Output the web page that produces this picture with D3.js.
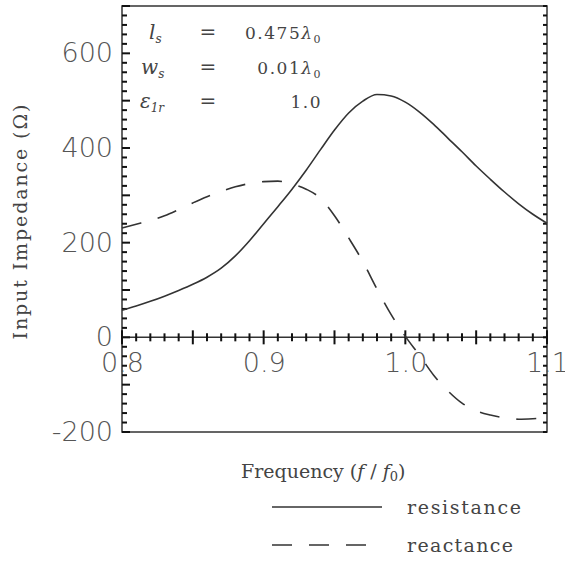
<!DOCTYPE html>
<html>
<head>
<meta charset="utf-8">
<script src="https://cdn.jsdelivr.net/npm/d3@7"></script>
<style>
  body { margin: 0; background: #fff; }
  .lbl text { font-family: "DejaVu Sans", sans-serif; font-weight: 200; font-size: 27px; fill: #555; }
  .serif { font-family: "DejaVu Serif", serif; fill: #444; }
</style>
</head>
<body>
<div id="chart"></div>
<script>
var freq = [0.80, 0.81, 0.82, 0.83, 0.84, 0.85, 0.86, 0.87, 0.88, 0.89, 0.90,
            0.91, 0.92, 0.93, 0.94, 0.95, 0.96, 0.97, 0.98, 0.99, 1.00,
            1.01, 1.02, 1.03, 1.04, 1.05, 1.06, 1.07, 1.08, 1.09, 1.10];
var resistance = [57, 66, 76, 87, 99, 112, 127, 146, 172, 204, 240,
                  276, 313, 353, 396, 438, 474, 499, 513, 510, 497,
                  476, 450, 421, 392, 362, 334, 307, 282, 260, 241];
var reactance = [231, 239, 247, 257, 270, 284, 297, 308, 318, 325, 329,
                 330, 324, 313, 294, 257, 210, 160, 102, 48, 2,
                 -38, -80, -113, -139, -155, -164, -170, -173, -172, -170];
var xLabels = [0.8, 0.9, 1.0, 1.1];
var yLabels = [-200, 0, 200, 400, 600];
var yTicks = d3.range(-200, 701, 20);
var xTicks = d3.range(0, 31).map(i => 0.8 + i * 0.01);
var params = [["l", "s", "0.475", true], ["w", "s", "0.01", true], ["ε", "1r", "1.0", false]];

var W = 565, H = 561;
var plotLeft = 122, plotRight = 547, plotTop = 6, plotBottom = 432;

var svg = d3.select("#chart").append("svg")
  .attr("width", W).attr("height", H);

var x = d3.scaleLinear().domain([0.8, 1.1]).range([plotLeft, plotRight]);
var y = d3.scaleLinear().domain([-200, 700]).range([plotBottom, plotTop]);

// frame
svg.append("rect")
  .attr("x", plotLeft).attr("y", plotTop)
  .attr("width", plotRight - plotLeft).attr("height", plotBottom - plotTop)
  .attr("fill", "none").attr("stroke", "#333").attr("stroke-width", 1.5);

// x axis along zero
svg.append("line")
  .attr("x1", plotLeft).attr("x2", plotRight)
  .attr("y1", y(0)).attr("y2", y(0))
  .attr("stroke", "#333").attr("stroke-width", 1.5);

// ticks: inward on left and right, crossing the zero line
var major = d => Math.abs(d % 100) < 1e-6;
var ticks = svg.append("g").attr("stroke", "#111").attr("stroke-width", 2);
yTicks.forEach(function(d) {
  ticks.append("line")
    .attr("x1", plotLeft).attr("x2", plotLeft + (major(d) ? 8 : 5))
    .attr("y1", y(d)).attr("y2", y(d));
  ticks.append("line")
    .attr("x1", plotRight).attr("x2", plotRight - 4)
    .attr("y1", y(d)).attr("y2", y(d));
});
xTicks.forEach(function(d, i) {
  var h = i % 5 == 0 ? 7 : 4;
  ticks.append("line")
    .attr("x1", x(d)).attr("x2", x(d))
    .attr("y1", y(0) - h).attr("y2", y(0) + h);
});

// y labels
svg.append("g")
  .attr("class", "lbl")
  .attr("transform", "translate(" + plotLeft + ",0)")
  .call(d3.axisLeft(y).tickValues(yLabels).tickSize(0).tickPadding(9).tickFormat(d => String(d)))
  .call(g => g.select(".domain").remove());

// x labels
svg.append("g")
  .attr("class", "lbl")
  .attr("transform", "translate(0," + y(0) + ")")
  .call(d3.axisBottom(x).tickValues(xLabels).tickSize(0).tickPadding(16).tickFormat(d3.format(".1f")))
  .call(g => g.select(".domain").remove());

// curves
var line = function(vals) {
  return d3.line()
    .x((d, i) => x(freq[i]))
    .y(d => y(d))
    .curve(d3.curveMonotoneX)(vals);
};
svg.append("path")
  .attr("d", line(resistance))
  .attr("fill", "none").attr("stroke", "#333").attr("stroke-width", 1.6);
svg.append("path")
  .attr("d", line(reactance))
  .attr("fill", "none").attr("stroke", "#333").attr("stroke-width", 1.6)
  .attr("stroke-dasharray", "20,17");

// parameter box
var rows = [39, 74, 108];
params.forEach(function(p, i) {
  var t = svg.append("text").attr("class", "serif")
    .attr("x", i == 1 ? 141 : (i == 2 ? 140 : 149)).attr("y", rows[i])
    .style("font-size", "20px").style("font-style", "italic");
  t.append("tspan").text(p[0]);
  t.append("tspan").attr("dy", 4).style("font-size", "12px").text(p[1]);

  svg.append("text").attr("class", "serif")
    .attr("x", 208).attr("y", rows[i])
    .attr("text-anchor", "middle")
    .style("font-size", "20px")
    .text("=");

  var v = svg.append("text").attr("class", "serif")
    .attr("x", 322).attr("y", rows[i])
    .attr("text-anchor", "end")
    .style("font-size", "17px").style("letter-spacing", "1.5px");
  v.append("tspan").text(p[2]);
  if (p[3]) {
    v.append("tspan").style("font-style", "italic").text("λ");
    v.append("tspan").attr("dy", 4).style("font-size", "11px").text("0");
  }
});

// axis titles
svg.append("text").attr("class", "serif")
  .attr("transform", "translate(27,222) rotate(-90)")
  .attr("text-anchor", "middle")
  .attr("textLength", 235).attr("lengthAdjust", "spacing")
  .style("font-size", "19px")
  .text("Input Impedance (Ω)");

var ft = svg.append("text").attr("class", "serif")
  .attr("x", 241).attr("y", 478)
  .style("font-size", "19px");
ft.append("tspan").text("Frequency (");
ft.append("tspan").style("font-style", "italic").text("f");
ft.append("tspan").text(" / ");
ft.append("tspan").style("font-style", "italic").text("f");
ft.append("tspan").attr("dy", 3).style("font-size", "13px").text("0");
ft.append("tspan").attr("dy", -3).text(")");

// legend
var legend = [["resistance", null, 507], ["reactance", "20,17", 545]];
legend.forEach(function(d) {
  svg.append("line")
    .attr("x1", 272).attr("x2", 382)
    .attr("y1", d[2]).attr("y2", d[2])
    .attr("stroke", "#333").attr("stroke-width", 1.5)
    .attr("stroke-dasharray", d[1]);
  svg.append("text").attr("class", "serif")
    .attr("x", 407).attr("y", d[2] + 7)
    .attr("textLength", d[0] == "resistance" ? 114 : 106).attr("lengthAdjust", "spacing")
    .style("font-size", "19px")
    .text(d[0]);
});
</script>
</body>
</html>
